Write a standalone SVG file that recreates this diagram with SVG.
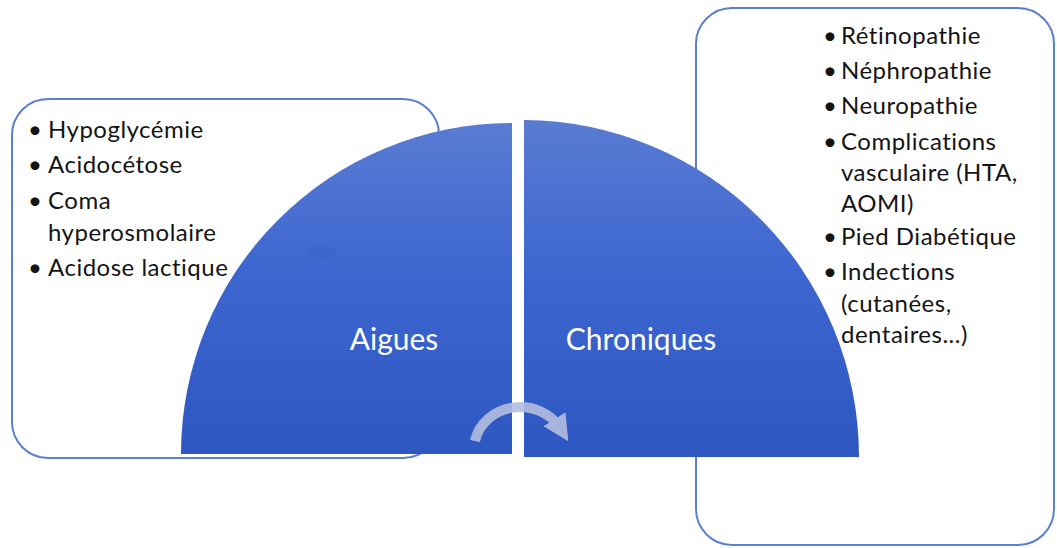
<svg xmlns="http://www.w3.org/2000/svg" width="1057" height="548" viewBox="0 0 1057 548">
<defs>
<linearGradient id="g" x1="0" y1="0" x2="0" y2="1">
<stop offset="0" stop-color="#5a7bd2"/>
<stop offset="0.45" stop-color="#3d66d0"/>
<stop offset="1" stop-color="#2e57c2"/>
</linearGradient>
<marker id="ah" viewBox="0 0 10 10" refX="4" refY="5" markerWidth="2.6" markerHeight="2.6" orient="auto" markerUnits="strokeWidth">
<path d="M0,0 L10,5 L0,10 z" fill="#b3bde0"/>
</marker>
<style>
.box{fill:#fff;stroke:#5a7fd0;stroke-width:2}
.t{font-family:Lato,"Open Sans","Liberation Sans",sans-serif;font-size:24px;letter-spacing:0.5px;fill:#141414;font-variant-ligatures:none}
.lbl{font-family:Lato,"Open Sans","Liberation Sans",sans-serif;font-size:30px;fill:#fff;text-anchor:middle;font-variant-ligatures:none}
</style>
</defs>
<rect width="1057" height="548" fill="#fff"/>
<g id="box-aigues">
<rect class="box" x="12" y="99" width="427" height="359" rx="36"/>
<text class="t"><tspan x="28" y="138">•</tspan><tspan x="48" y="138">Hypoglycémie</tspan>
<tspan x="28" y="173">•</tspan><tspan x="48" y="173">Acidocétose</tspan>
<tspan x="28" y="209">•</tspan><tspan x="48" y="209">Coma</tspan>
<tspan x="48" y="241">hyperosmolaire</tspan>
<tspan x="28" y="276">•</tspan><tspan x="48" y="276">Acidose lactique</tspan></text>
</g>
<g id="box-chroniques">
<rect class="box" x="696" y="8" width="358" height="537" rx="36"/>
<text class="t"><tspan x="823" y="44">•</tspan><tspan x="841" y="44">Rétinopathie</tspan>
<tspan x="823" y="79">•</tspan><tspan x="841" y="79">Néphropathie</tspan>
<tspan x="823" y="114">•</tspan><tspan x="841" y="114">Neuropathie</tspan>
<tspan x="823" y="150">•</tspan><tspan x="841" y="150">Complications</tspan>
<tspan x="841" y="181">vasculaire (HTA,</tspan>
<tspan x="841" y="212">AOMI)</tspan>
<tspan x="823" y="245">•</tspan><tspan x="841" y="245">Pied Diabétique</tspan>
<tspan x="823" y="280">•</tspan><tspan x="841" y="280">Indections</tspan>
<tspan x="841" y="312">(cutanées,</tspan>
<tspan x="841" y="343">dentaires...)</tspan></text>
</g>
<g id="node-aigues">
<path d="M512,454 L181,454 A331,331 0 0 1 512,123 Z" fill="url(#g)"/>
<ellipse cx="322" cy="252" rx="15" ry="6" fill="#3a62c8" opacity="0.7"/>
<text class="lbl" x="394" y="350">Aigues</text>
</g>
<g id="node-chroniques">
<path d="M524,457 L524,120 A337,337 0 0 1 859,457 Z" fill="url(#g)"/>
<text class="lbl" x="641" y="350">Chroniques</text>
</g>
<g id="connectors">
<path d="M475,441 A46,42 0 0 1 560,428" fill="none" stroke="#b3bde0" stroke-width="10" opacity="0.9" marker-end="url(#ah)"/>
</g>
</svg>
